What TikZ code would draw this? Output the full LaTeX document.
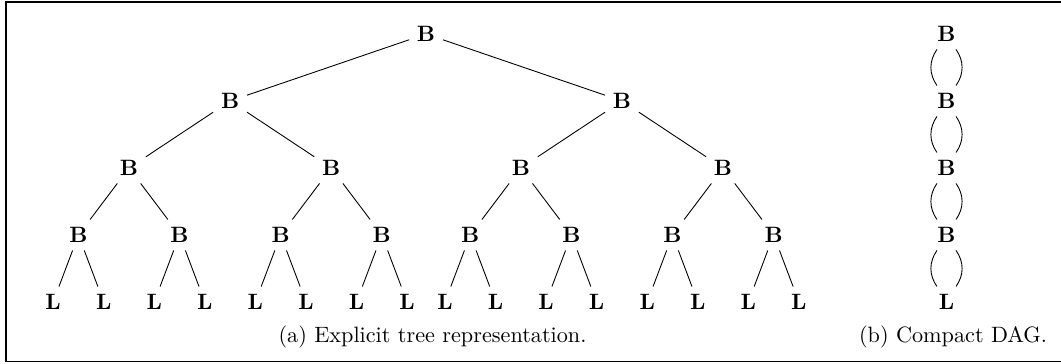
\documentclass[tikz,border=0pt]{standalone}
\usepackage{tikz}
\usetikzlibrary{calc}
\tikzset{
  tnode/.style={font=\bfseries},
  tedge/.style={draw, line width=0.4pt},
  dagarc/.style={draw, line width=0.4pt},
  frame/.style={draw, line width=0.8pt},
  captext/.style={font=\normalsize}
}

\begin{document}
\begin{tikzpicture}
  \useasboundingbox (0,0) rectangle (16.788,-5.744);
  \draw[frame] (0.095,-0.032) rectangle (17.0,-5.72);

  % explicit tree, children placed under their parent
  \node[tnode] (t0-0) at (6.741,-0.538) {B};
  \foreach \lev/\sep in {1/3.1,2/1.6,3/0.8,4/0.4}{
    \pgfmathtruncatemacro{\prev}{\lev-1}
    \pgfmathtruncatemacro{\last}{2^\prev-1}
    \ifnum\lev=4 \def\lab{L}\else\def\lab{B}\fi
    \foreach \i in {0,...,\last}{
      \pgfmathtruncatemacro{\lft}{2*\i}
      \pgfmathtruncatemacro{\rgt}{2*\i+1}
      \node[tnode] (t\lev-\lft) at ($(t\prev-\i)+(-\sep,-1.06)$) {\lab};
      \node[tnode] (t\lev-\rgt) at ($(t\prev-\i)+(\sep,-1.06)$) {\lab};
      \draw[tedge] (t\prev-\i) -- (t\lev-\lft);
      \draw[tedge] (t\prev-\i) -- (t\lev-\rgt);
    }
  }

  % compact DAG
  \foreach \k/\lab in {0/B,1/B,2/B,3/B,4/L}{
    \node[tnode] (d\k) at (14.976,{-0.538-1.06*\k}) {\lab};
  }
  \foreach \k in {0,...,3}{
    \pgfmathtruncatemacro{\nxt}{\k+1}
    \draw[dagarc] ([xshift=-4.3pt]d\k.south) to[bend right=35] ([xshift=-4.3pt]d\nxt.north);
    \draw[dagarc] ([xshift=4.3pt]d\k.south) to[bend left=35] ([xshift=4.3pt]d\nxt.north);
  }

  \node[captext] (capa) at (6.843,-5.332) {(a) Explicit tree representation.};
  \node[captext] (capb) at (15.08,-5.332) {(b) Compact DAG.};
\end{tikzpicture}
\end{document}
